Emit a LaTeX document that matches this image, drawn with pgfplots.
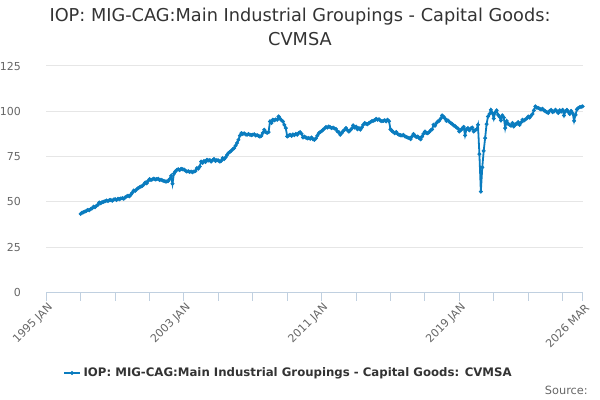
\documentclass[border=0pt]{standalone}
\usepackage{pgfplots}
\pgfplotsset{compat=1.18}
\usepackage{fontspec}
\setmainfont{DejaVu Sans}
\definecolor{serie}{HTML}{0A7CBF}
\definecolor{gridc}{HTML}{E6E6E6}
\definecolor{axisc}{HTML}{C0D0E0}
\definecolor{tickc}{HTML}{666666}
\definecolor{titlec}{HTML}{333333}
\begin{document}
\begin{tikzpicture}
\path[use as bounding box] (0,0) rectangle (450pt,300pt);
\begin{axis}[
  at={(34.7pt,80.8pt)}, anchor=south west,
  scale only axis, width=402.3pt, height=169.7pt,
  xmin=0, xmax=374, ymin=0, ymax=125,
  xtick={0,96,192,288,374},
  xticklabels={1995 JAN,2003 JAN,2011 JAN,2019 JAN,2026 MAR},
  minor xtick={24,48,72,120,144,168,216,240,264,312,336,360},
  ytick={0,25,50,75,100,125},
  axis x line*=bottom, axis y line*=left,
  x axis line style={draw=axisc, line width=0.75pt},
  y axis line style={draw=none},
  ymajorgrids, grid style={draw=gridc, line width=0.75pt},
  tick align=outside,
  xtick style={draw=axisc, line width=0.75pt},
  minor x tick style={draw=axisc, line width=0.75pt},
  major tick length=6.5pt, minor tick length=6.5pt,
  ytick style={draw=none},
  /pgf/number format/assume math mode=true,
  tick label style={font=\fontsize{8.25}{10}\selectfont, text=tickc},
  xticklabel style={rotate=45, anchor=east, inner sep=1pt, yshift=-5pt, xshift=1pt},
  yticklabel style={xshift=-9pt},
  legend style={draw=none, fill=none, at={(0.452,-0.357)}, anchor=center,
    font=\fontsize{8.8}{11}\selectfont\bfseries, text=titlec},
  legend image code/.code={\draw[mark repeat=2,mark phase=2] plot coordinates {(0pt,0pt)(6pt,0pt)(12pt,0pt)};},
]
\addplot[serie, line width=1.35pt, mark=*, mark size=1.25pt, mark options={fill=serie, draw=serie, line width=0.5pt}] coordinates {
(24,43.3)(25,44.0)(26,44.2)(27,44.6)(28,45.0)(29,45.5)(30,45.3)(31,46.0)(32,46.4)(33,47.3)(34,47.0)(35,47.8)
(36,48.3)(37,49.6)(38,49.2)(39,49.8)(40,50.0)(41,50.3)(42,50.7)(43,50.4)(44,50.9)(45,51.0)(46,50.6)(47,51.2)
(48,51.4)(49,51.0)(50,51.6)(51,51.4)(52,51.8)(53,52.0)(54,51.7)(55,52.4)(56,52.9)(57,53.3)(58,53.0)(59,54.0)
(60,55.0)(61,56.2)(62,56.0)(63,56.8)(64,57.5)(65,58.0)(66,58.4)(67,58.8)(68,59.5)(69,60.6)(70,60.2)(71,61.5)
(72,62.5)(73,62.0)(74,62.4)(75,62.8)(76,62.3)(77,62.5)(78,62.7)(79,62.0)(80,62.2)(81,61.8)(82,61.5)(83,61.2)
(84,61.2)(85,61.5)(86,62.5)(87,64.3)(88,59.9)(89,65.5)(90,66.7)(91,67.6)(92,68.0)(93,67.5)(94,68.2)(95,68.0)
(96,67.8)(97,67.2)(98,66.7)(99,66.9)(100,66.5)(101,66.7)(102,66.3)(103,66.7)(104,67.0)(105,68.6)(106,68.3)(107,69.5)
(108,72.2)(109,71.5)(110,72.5)(111,72.0)(112,73.2)(113,72.8)(114,73.0)(115,72.2)(116,73.0)(117,73.6)(118,72.5)(119,73.0)
(120,72.8)(121,72.2)(122,72.6)(123,74.1)(124,73.5)(125,74.5)(126,75.8)(127,76.9)(128,77.5)(129,78.2)(130,79.0)(131,79.6)
(132,81.0)(133,82.5)(134,84.2)(135,86.5)(136,87.9)(137,87.5)(138,87.8)(139,87.2)(140,87.0)(141,87.4)(142,87.0)(143,86.8)
(144,87.0)(145,87.3)(146,86.6)(147,86.8)(148,86.4)(149,86.0)(150,86.4)(151,88.0)(152,89.8)(153,88.6)(154,88.1)(155,88.5)
(156,94.4)(157,93.5)(158,95.3)(159,95.0)(160,95.5)(161,95.3)(162,97.1)(163,96.0)(164,95.0)(165,94.4)(166,92.5)(167,90.7)
(168,86.1)(169,86.5)(170,87.0)(171,86.4)(172,87.2)(173,86.8)(174,87.5)(175,87.0)(176,88.0)(177,88.5)(178,87.5)(179,85.5)
(180,86.0)(181,85.5)(182,85.0)(183,85.2)(184,84.8)(185,85.5)(186,84.5)(187,84.2)(188,85.0)(189,86.5)(190,87.9)(191,88.5)
(192,89.0)(193,89.8)(194,90.5)(195,91.3)(196,91.0)(197,91.6)(198,91.2)(199,90.7)(200,91.0)(201,90.5)(202,90.2)(203,88.8)
(204,88.5)(205,87.0)(206,88.0)(207,89.0)(208,89.8)(209,90.7)(210,89.5)(211,88.8)(212,89.5)(213,90.5)(214,92.2)(215,91.0)
(216,91.5)(217,90.0)(218,90.7)(219,89.8)(220,91.0)(221,92.5)(222,93.5)(223,93.0)(224,92.8)(225,93.5)(226,94.0)(227,94.5)
(228,94.8)(229,95.0)(230,95.8)(231,95.3)(232,95.6)(233,94.8)(234,94.5)(235,94.7)(236,95.0)(237,94.4)(238,95.3)(239,94.5)
(240,90.0)(241,89.2)(242,88.5)(243,87.9)(244,88.5)(245,87.5)(246,87.0)(247,86.8)(248,86.6)(249,87.0)(250,86.2)(251,85.8)
(252,85.5)(253,85.2)(254,84.6)(255,86.0)(256,87.4)(257,86.5)(258,85.8)(259,86.0)(260,85.2)(261,84.5)(262,86.0)(263,87.5)
(264,88.8)(265,88.0)(266,87.9)(267,88.5)(268,89.5)(269,90.0)(270,92.5)(271,92.0)(272,93.5)(273,94.4)(274,94.8)(275,96.0)
(276,97.7)(277,97.0)(278,96.0)(279,94.7)(280,95.0)(281,94.2)(282,93.5)(283,93.0)(284,92.2)(285,91.8)(286,91.0)(287,90.5)
(288,88.8)(289,89.5)(290,90.5)(291,91.3)(292,86.7)(293,90.0)(294,90.7)(295,89.5)(296,90.5)(297,91.0)(298,88.8)(299,89.5)
(300,90.0)(301,92.5)(302,76.3)(303,55.6)(304,69.0)(305,78.1)(306,85.2)(307,92.9)(308,97.1)(309,98.5)(310,100.8)(311,99.0)
(312,96.0)(313,99.3)(314,100.5)(315,98.0)(316,97.0)(317,95.0)(318,97.7)(319,96.5)(320,90.7)(321,94.6)(322,93.0)(323,92.5)
(324,92.0)(325,93.5)(326,91.6)(327,92.8)(328,93.0)(329,94.0)(330,92.5)(331,93.8)(332,95.3)(333,94.8)(334,95.5)(335,96.0)
(336,97.1)(337,96.5)(338,97.5)(339,98.5)(340,100.5)(341,102.7)(342,102.0)(343,101.8)(344,101.4)(345,101.0)(346,101.4)(347,100.5)
(348,100.0)(349,99.5)(350,99.0)(351,100.2)(352,100.8)(353,99.5)(354,99.9)(355,100.8)(356,100.0)(357,99.0)(358,100.5)(359,99.8)
(360,100.8)(361,97.7)(362,100.0)(363,100.8)(364,99.5)(365,98.5)(366,100.2)(367,99.0)(368,94.7)(369,98.0)(370,101.0)(371,101.8)
(372,102.3)(373,102.5)(374,102.7)
};
\addlegendentry{IOP: MIG-CAG:Main Industrial Groupings - Capital Goods: CVMSA}
\end{axis}
\node[text=titlec, font=\fontsize{13.3}{16}\selectfont] at (225pt,287.2pt) {IOP: MIG-CAG:Main Industrial Groupings - Capital Goods:};
\node[text=titlec, font=\fontsize{13.3}{16}\selectfont] at (225pt,270.7pt) {CVMSA};
\node[text=tickc, font=\fontsize{8.5}{10}\selectfont, anchor=east, inner sep=0pt] at (441pt,7.5pt) {Source:};
\end{tikzpicture}
\end{document}
